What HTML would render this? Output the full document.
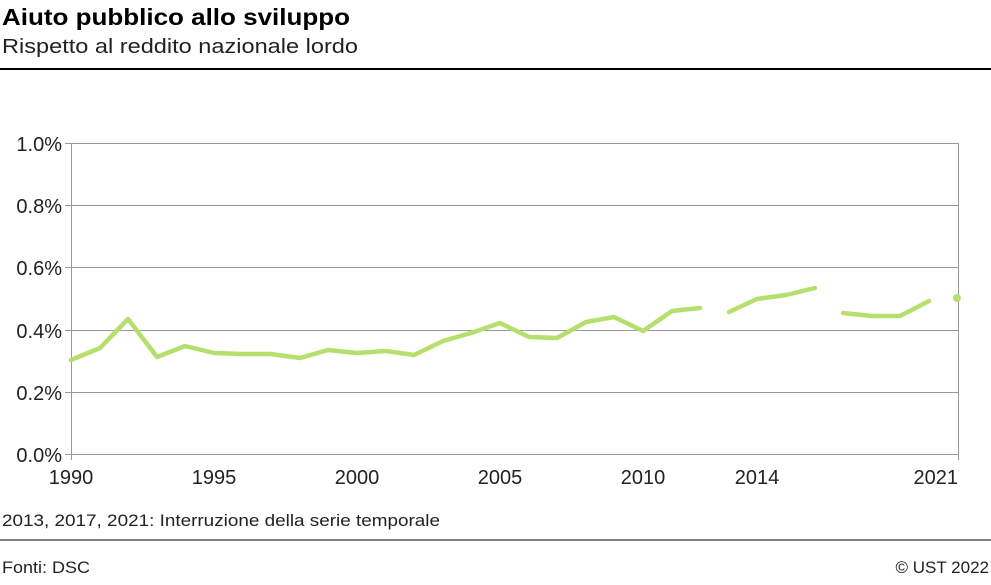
<!DOCTYPE html>
<html><head><meta charset="utf-8"><style>
body{margin:0;background:#fff;width:991px;height:580px;overflow:hidden;font-family:"Liberation Sans",sans-serif}
</style></head><body>
<svg width="991" height="580" xmlns="http://www.w3.org/2000/svg" font-family="Liberation Sans, sans-serif">
<text x="2" y="25" font-size="23" font-weight="bold" fill="#000" textLength="348" lengthAdjust="spacingAndGlyphs">Aiuto pubblico allo sviluppo</text>
<text x="2" y="53" font-size="20" fill="#222" textLength="356" lengthAdjust="spacingAndGlyphs">Rispetto al reddito nazionale lordo</text>
<line x1="0" y1="69" x2="991" y2="69" stroke="#000" stroke-width="2"/>
<g stroke="#999" stroke-width="1">
<line x1="71" y1="143.5" x2="958" y2="143.5"/>
<line x1="71" y1="205.5" x2="958" y2="205.5"/>
<line x1="71" y1="267.5" x2="958" y2="267.5"/>
<line x1="71" y1="330.5" x2="958" y2="330.5"/>
<line x1="71" y1="392.5" x2="958" y2="392.5"/>
<line x1="71" y1="454.5" x2="958" y2="454.5"/>
<line x1="71.5" y1="143" x2="71.5" y2="460"/>
<line x1="958.5" y1="143" x2="958.5" y2="460"/>
<line x1="65" y1="143.5" x2="71" y2="143.5"/><line x1="65" y1="205.5" x2="71" y2="205.5"/><line x1="65" y1="267.5" x2="71" y2="267.5"/><line x1="65" y1="330.5" x2="71" y2="330.5"/><line x1="65" y1="392.5" x2="71" y2="392.5"/><line x1="65" y1="454.5" x2="71" y2="454.5"/>
</g>
<g font-size="20" fill="#222" text-anchor="end">
<text x="62" y="151">1.0%</text><text x="62" y="213">0.8%</text><text x="62" y="275">0.6%</text><text x="62" y="338">0.4%</text><text x="62" y="400">0.2%</text><text x="62" y="462">0.0%</text>
</g>
<g font-size="20" fill="#222" text-anchor="middle">
<text x="71" y="484">1990</text><text x="214" y="484">1995</text><text x="357" y="484">2000</text><text x="500" y="484">2005</text><text x="643" y="484">2010</text><text x="757" y="484">2014</text><text x="958" y="484" text-anchor="end">2021</text>
</g>
<g fill="none" stroke="#b5e06e" stroke-width="4.5" stroke-linecap="round" stroke-linejoin="round">
<polyline points="71,360 100,348 128,319 157,357 185,346 214,353 243,354 271,354 300,358 328,350 357,353 386,351 414,355 443,341 471,333 500,323 529,337 557,338 586,322 614,317 643,331 672,311 700,308"/>
<polyline points="729,312 757,299 786,295 815,288"/>
<polyline points="843,313 872,316 900,316 929,301"/>
</g>
<circle cx="957" cy="298" r="4" fill="#b5e06e"/>
<text x="2" y="526" font-size="17" fill="#222" textLength="438" lengthAdjust="spacingAndGlyphs">2013, 2017, 2021: Interruzione della serie temporale</text>
<line x1="0" y1="540" x2="991" y2="540" stroke="#000" stroke-width="1"/>
<text x="2" y="573" font-size="17" fill="#222" textLength="88" lengthAdjust="spacingAndGlyphs">Fonti: DSC</text>
<text x="989" y="573" font-size="17" fill="#222" text-anchor="end">© UST 2022</text>
</svg>
</body></html>
